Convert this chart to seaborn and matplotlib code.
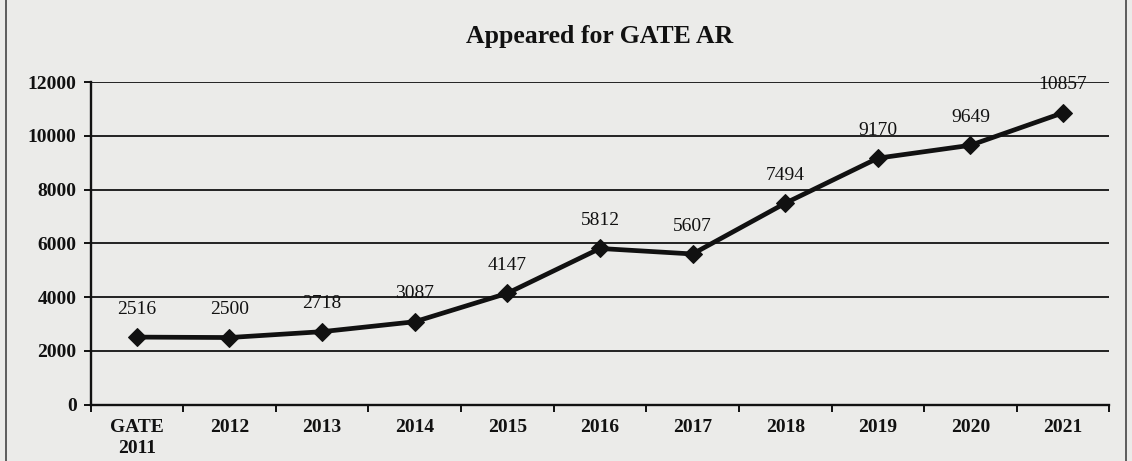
import matplotlib
matplotlib.use("Agg")
import matplotlib.pyplot as plt
import seaborn as sns
import pandas as pd
import numpy as np
from matplotlib.patches import Rectangle

categories = ["GATE\n2011", "2012", "2013", "2014", "2015", "2016", "2017", "2018", "2019", "2020", "2021"]
appeared = [2516, 2500, 2718, 3087, 4147, 5812, 5607, 7494, 9170, 9649, 10857]
y_ticks = [0, 2000, 4000, 6000, 8000, 10000, 12000]

sns.set_theme(style="white")
plt.rcParams['font.family'] = ['Liberation Serif', 'DejaVu Serif']

bg = "#ebebe9"
fig = plt.figure(figsize=(11.32, 4.61), dpi=100, facecolor=bg)
ax = fig.add_axes([0.08, 0.122, 0.9, 0.70], facecolor=bg)

df = pd.DataFrame({"pos": np.arange(len(categories)), "val": appeared})
sns.lineplot(data=df, x="pos", y="val", ax=ax, color="#111111", linewidth=3.4,
             marker="D", markersize=9.5, markeredgecolor="#111111")

for x, v in zip(df["pos"], df["val"]):
    ax.annotate(f"{v}", (x, v), xytext=(0, 14), textcoords="offset points",
                ha="center", va="bottom", fontsize=14, color="#111111")

ax.set_xlim(-0.5, len(categories) - 0.5)
ax.set_ylim(0, 12000)
ax.set_yticks(y_ticks)
ax.set_yticklabels([str(t) for t in y_ticks], fontsize=14, fontweight="bold", color="#111111")
ax.set_xticks(np.arange(len(categories)))
ax.set_xticklabels(categories, fontsize=14, fontweight="bold", color="#111111", linespacing=1.35)
ax.set_xticks(np.arange(len(categories) + 1) - 0.5, minor=True)
ax.tick_params(axis="x", which="major", length=0, pad=10)
ax.tick_params(axis="x", which="minor", length=5, width=1.4, color="#111111", direction="out", bottom=True)
ax.tick_params(axis="y", length=5, width=1.4, color="#111111", direction="out", left=True, pad=5)

ax.grid(axis="y", color="#222222", linewidth=1.4)
ax.set_axisbelow(True)
for side in ["top", "right"]:
    ax.spines[side].set_visible(False)
for side in ["left", "bottom"]:
    ax.spines[side].set_color("#111111")
    ax.spines[side].set_linewidth(1.7)

ax.set_xlabel("")
ax.set_ylabel("")
ax.set_title("Appeared for GATE AR", fontsize=18.5, fontweight="bold", color="#111111", pad=28)

fig.patches.append(Rectangle((0.005, -0.01), 0.99, 1.05, transform=fig.transFigure,
                             fill=False, edgecolor="#444444", linewidth=1.2))

fig.savefig("out.png", dpi=100, facecolor=bg)
